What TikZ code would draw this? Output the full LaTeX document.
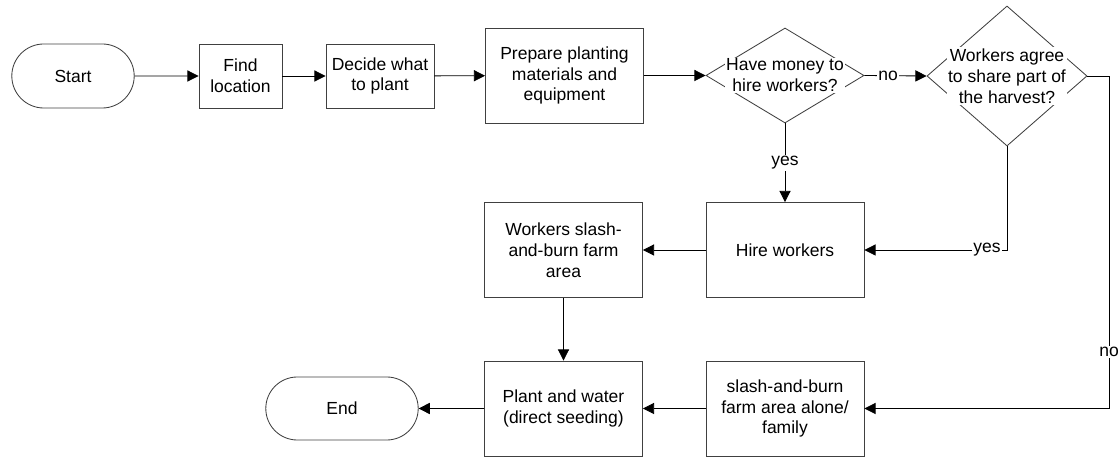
\documentclass[tikz,border=0pt]{standalone}
\usepackage{fontspec}
\setmainfont{Liberation Sans}
\usetikzlibrary{shapes.geometric,shapes.misc,arrows.meta}

\tikzset{
    box/.style={rectangle, draw=black!75, line width=0.6pt, align=center,
        minimum width=3.95cm, minimum height=2.375cm, inner sep=2pt},
    term/.style={rounded rectangle, draw=black!75, line width=0.6pt,
        minimum height=1.6cm, inner sep=2pt},
    cond/.style={diamond, draw=black!75, line width=0.6pt, inner sep=0pt},
    condtext/.style={fill=white, inner sep=1pt, align=center},
    lbl/.style={fill=white, inner sep=1pt},
    arr/.style={-{Triangle[length=0.28cm, width=0.28cm]}, line width=0.6pt}
}

\begin{document}
\begin{tikzpicture}[x=0.025cm, y=-0.025cm,
    every node/.append style={font=\fontsize{12.45pt}{14.9pt}\selectfont}]
    % Frame
    \useasboundingbox (0,0) rectangle (1120,457);

    % Top row
    \node[term, minimum width=3.2cm] (start) at (73,76) {Start};
    \node[box, minimum width=2.075cm, minimum height=1.6cm] (find) at (240.5,76) {Find\\location};
    \node[box, minimum width=2.7cm, minimum height=1.6cm] (decide) at (380,76) {Decide what\\to plant};
    \node[box] (prep) at (564.5,75.5) {Prepare planting\\materials and\\equipment};
    \node[cond, minimum width=3.95cm, minimum height=2.375cm] (money) at (785,75.5) {};
    \node[condtext] (moneytxt) at (money) {Have money to\\hire workers?};
    \node[cond, minimum width=4cm, minimum height=3.5cm] (agree) at (1007,76) {};
    \node[condtext] (agreetxt) at (agree) {Workers agree\\to share part of\\the harvest?};
    \coordinate (turn) at (1109,76);

    % Middle row
    \node[box] (wburn) at (563.5,250) {Workers slash-\\and-burn farm\\area};
    \node[box] (hire) at (785,250) {Hire workers};

    % Bottom row
    \node[term, minimum width=3.95cm, minimum height=1.575cm] (end) at (342,408.5) {End};
    \node[box] (plant) at (563.5,408.5) {Plant and water\\(direct seeding)};
    \node[box] (alone) at (785,408.5) {slash-and-burn\\farm area alone/\\family};

    % Connectors
    \draw[arr] (start) -- (find);
    \draw[arr] (find) -- (decide);
    \draw[arr] (decide) -- (prep);
    \draw[arr] (prep) -- (money.west);
    \draw[arr] (money.east) -- node[lbl, pos=0.38] (no1) {no} (agree.west);
    \draw[arr] (money.south) -- node[lbl] (yes1) {yes} (hire.north);
    \draw[arr] (agree.south) |- node[lbl, pos=0.57] (yes2) {yes} (hire.east);
    \draw[arr] (agree.east) -- (turn) |- node[lbl, pos=0.415] (no2) {no} (alone.east);
    \draw[arr] (hire) -- (wburn);
    \draw[arr] (wburn) -- (plant);
    \draw[arr] (alone) -- (plant);
    \draw[arr] (plant) -- (end);
\end{tikzpicture}
\end{document}
